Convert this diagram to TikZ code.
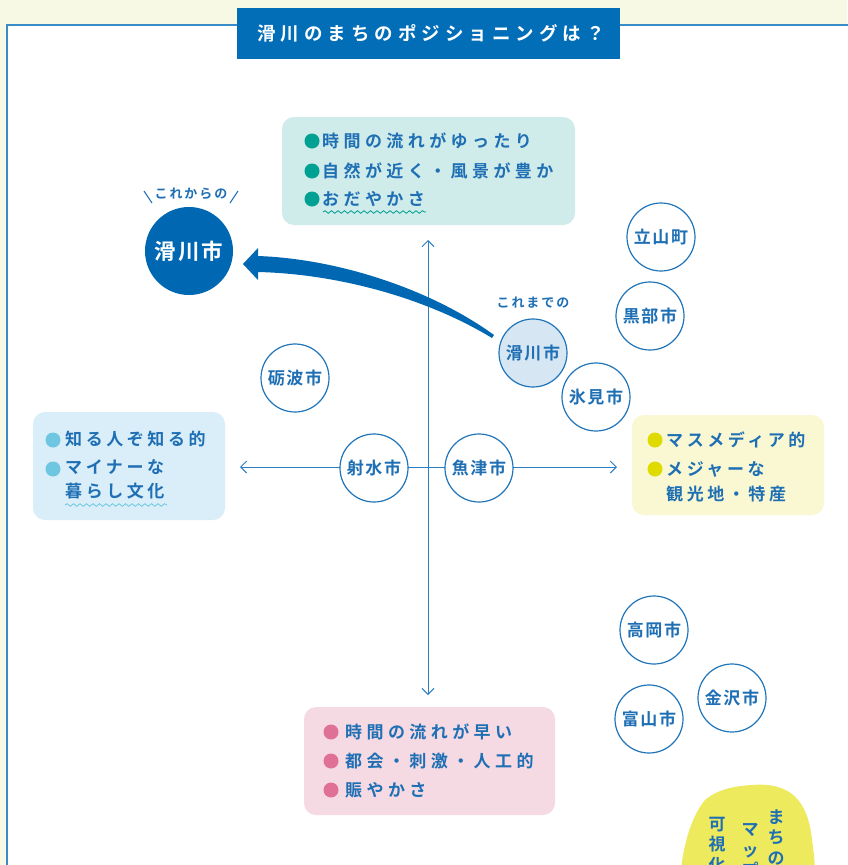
\documentclass[tikz,border=0pt]{standalone}
\usepackage{fontspec}
\setmainfont{Noto Sans CJK JP}[BoldFont={Noto Sans CJK JP Bold}]
\newfontfamily\jpbox{Noto Sans CJK JP}[LetterSpace=26,BoldFont={Noto Sans CJK JP Bold}]
\newfontfamily\jpside{Noto Sans CJK JP}[LetterSpace=21,BoldFont={Noto Sans CJK JP Bold}]
\newfontfamily\jpcity{Noto Sans CJK JP}[LetterSpace=10,BoldFont={Noto Sans CJK JP Bold}]
\newfontfamily\jptitle{Noto Sans CJK JP}[LetterSpace=27,BoldFont={Noto Sans CJK JP Bold}]
\newfontfamily\jpsmall{Noto Sans CJK JP}[LetterSpace=15,BoldFont={Noto Sans CJK JP Bold}]
\usetikzlibrary{arrows.meta,decorations.pathmorphing}
\definecolor{bgy}{HTML}{F8F9E4}
\definecolor{pborder}{HTML}{3A8CC8}
\definecolor{tblue}{HTML}{1E6FB4}
\definecolor{titlebl}{HTML}{036EB8}
\definecolor{cblue}{HTML}{1F74BA}
\definecolor{oldfill}{HTML}{D6E6F3}
\definecolor{newfill}{HTML}{0068B3}
\definecolor{tealbg}{HTML}{CFEBEA}
\definecolor{tealdot}{HTML}{00A193}
\definecolor{lbbg}{HTML}{D9EEF9}
\definecolor{lbdot}{HTML}{6EC6E0}
\definecolor{ylbg}{HTML}{FAF8D2}
\definecolor{yldot}{HTML}{DFDB00}
\definecolor{pkbg}{HTML}{F6DAE3}
\definecolor{pkdot}{HTML}{DF7096}
\definecolor{blob}{HTML}{EEEA5E}
\definecolor{axisc}{HTML}{2B7EC1}
\tikzset{
  box/.style={rounded corners=12pt, inner sep=0pt},
  boxtxt/.style={anchor=west, inner sep=0pt, text=tblue, font=\jpbox\bfseries\fontsize{17}{19}\selectfont},
  sidetxt/.style={anchor=west, inner sep=0pt, text=tblue, font=\jpside\bfseries\fontsize{17}{19}\selectfont},
  city/.style={circle, draw=cblue, line width=1.2pt, fill=white, minimum size=68pt, inner sep=0pt, text=tblue, font=\jpcity\bfseries\fontsize{17}{19}\selectfont},
  smalllbl/.style={inner sep=0pt, text=tblue, font=\jpsmall\bfseries\fontsize{13}{15}\selectfont},
  axisline/.style={draw=axisc, line width=1pt, -{Straight Barb[length=6pt,width=12pt,line width=1pt]}},
  wave/.style={decorate, decoration={snake, amplitude=1.3pt, segment length=6.5pt}, line width=0.8pt},
  vtxt/.style={anchor=north, inner sep=0pt, align=center, text=tblue, font=\bfseries\fontsize{17}{20.5}\selectfont}
}
\begin{document}
\begin{tikzpicture}[x=1pt,y=-1pt]
\useasboundingbox (0,0) rectangle (847,865);
\fill[bgy] (0,0) rectangle (847,865);
\fill[white] (7,25) rectangle (847,865);
\draw[pborder,line width=1.8pt] (7,866) -- (7,25) -- (848,25);

% title
\node (title) [fill=titlebl, text=white, minimum width=383pt, minimum height=51pt, inner sep=0pt,
  font=\jptitle\bfseries\fontsize{18.5}{20}\selectfont] at (428.5,33.5) {\hspace{5pt}滑川のまちのポジショニングは？};

% boxes
\node (topbox) [box, fill=tealbg, minimum width=293pt, minimum height=108pt] at (428.5,171) {};
\node (leftbox) [box, fill=lbbg, minimum width=192pt, minimum height=108pt] at (129,466) {};
\node (rightbox) [box, fill=ylbg, minimum width=192pt, minimum height=100pt] at (728,465) {};
\node (botbox) [box, fill=pkbg, minimum width=251pt, minimum height=108pt] at (429.5,761) {};

% top box text
\fill[tealdot] (312,141) circle (7.5pt);
\fill[tealdot] (312,171) circle (7.5pt);
\fill[tealdot] (312,199) circle (7.5pt);
\node (t1) [boxtxt] at (322,141) {時間の流れがゆったり};
\node (t2) [boxtxt] at (322,171) {自然が近く・風景が豊か};
\node (t3) [boxtxt] at (322,199) {おだやかさ};
\draw[wave, tealdot] (323,212) -- (426,212);

% left box text
\fill[lbdot] (53,440) circle (7.5pt);
\fill[lbdot] (53,469) circle (7.5pt);
\node (l1) [sidetxt] at (65,439) {知る人ぞ知る的};
\node (l2) [sidetxt] at (65,467) {マイナーな};
\node (l3) [sidetxt] at (65,491) {暮らし文化};
\draw[wave, lbdot] (65,505) -- (167,505);

% right box text
\fill[yldot] (655,440) circle (7.5pt);
\fill[yldot] (655,469) circle (7.5pt);
\node (r1) [sidetxt] at (666,440) {マスメディア的};
\node (r2) [sidetxt] at (666,469) {メジャーな};
\node (r3) [sidetxt] at (666,494) {観光地・特産};

% bottom box text
\fill[pkdot] (331,732) circle (7.5pt);
\fill[pkdot] (331,761) circle (7.5pt);
\fill[pkdot] (331,790) circle (7.5pt);
\node (b1) [boxtxt] at (345,732) {時間の流れが早い};
\node (b2) [boxtxt] at (345,761) {都会・刺激・人工的};
\node (b3) [boxtxt] at (345,790) {賑やかさ};

% axes
\coordinate (ctr) at (428,467);
\coordinate (up) at (428,240);
\coordinate (down) at (428,695);
\coordinate (lft) at (240,467);
\coordinate (rgt) at (617,467);
\draw[axisline] (ctr) -- (up);
\draw[axisline] (ctr) -- (down);
\draw[axisline] (ctr) -- (lft);
\draw[axisline] (ctr) -- (rgt);

% cities
\node (tateyama) [city] at (661,237) {立山町};
\node (kurobe) [city] at (650,316) {黒部市};
\node (himi) [city] at (596,397) {氷見市};
\node (tonami) [city] at (295,378) {砺波市};
\node (imizu) [city] at (374,468) {射水市};
\node (uozu) [city] at (479,468) {魚津市};
\node (takaoka) [city] at (654,630) {高岡市};
\node (kanazawa) [city] at (732,698) {金沢市};
\node (toyama) [city] at (649,719) {富山市};

% big arrow
\fill[newfill] (258,256) .. controls (340,259) and (432,290) .. (494,335)
  -- (492,338) .. controls (428,299) and (340,274) .. (258,272)
  -- (258,280) -- (243,264) -- (258,248) -- cycle;

\node (nameold) [city, fill=oldfill] at (533,353) {滑川市};
\node (lblold) [smalllbl] at (533,303) {これまでの};

\node (namenew) [circle, fill=newfill, minimum size=88pt, inner sep=0pt, text=white,
  font=\jpcity\bfseries\fontsize{21.5}{23}\selectfont] at (189,251) {滑川市};
\node (lblnew) [smalllbl] at (191,194) {これからの};
\draw[tblue, line width=1pt] (144,191) -- (152,203);
\draw[tblue, line width=1pt] (238,191) -- (230,203);

% blob
\begin{scope}
\clip (0,0) rectangle (847,865);
\fill[blob] (752,785) .. controls (790,782) and (808,800) .. (812,840)
  .. controls (815,860) and (815,870) .. (815,880) -- (680,880)
  .. controls (682,850) and (690,818) .. (705,800)
  .. controls (718,789) and (735,786) .. (752,785) -- cycle;
\node (v1) [vtxt] at (776,809.5) {ま\\ち\\の};
\node (v2) [vtxt] at (750,823.5) {マ\\ッ\\プ};
\node (v3) [vtxt] at (717,816.5) {可\\視\\化};
\end{scope}
\end{tikzpicture}
\end{document}
